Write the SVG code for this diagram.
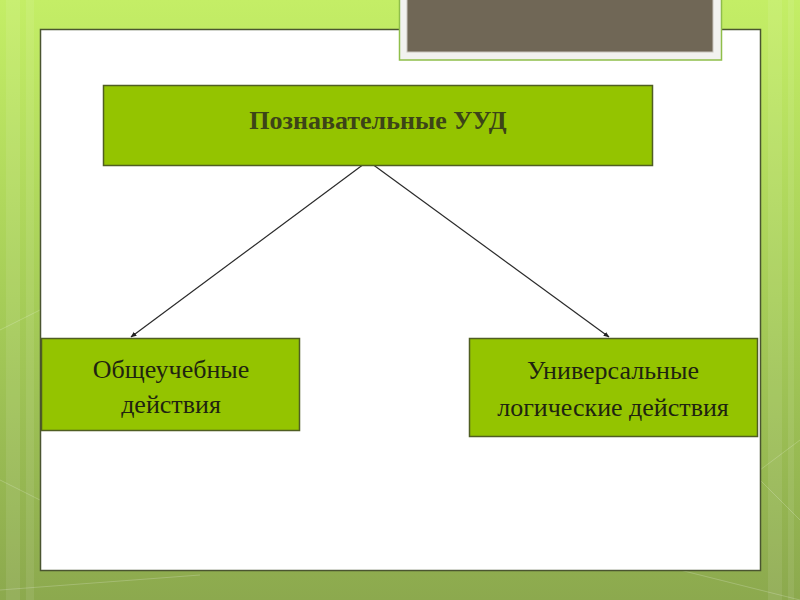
<svg xmlns="http://www.w3.org/2000/svg" width="800" height="600" viewBox="0 0 800 600">
<defs>
<linearGradient id="bg" x1="0" y1="0" x2="0" y2="1">
<stop offset="0" stop-color="#c4ee66"/>
<stop offset="0.5" stop-color="#a6cd58"/>
<stop offset="1" stop-color="#8ca94e"/>
</linearGradient>
<marker id="arr" viewBox="0 0 10 10" refX="9" refY="5" markerWidth="5" markerHeight="5" orient="auto">
<path d="M0,1 L10,5 L0,9 Z" fill="#222"/>
</marker>
<style>
.box{fill:#94c400;stroke:#4f5e22;stroke-width:1.5}
.t{font-family:"Liberation Serif","Times New Roman",serif;font-size:26px;fill:#1f2410;text-anchor:middle}
.tb{font-family:"Liberation Serif","Times New Roman",serif;font-size:26px;font-weight:bold;fill:#3c4418;text-anchor:middle}
.con{stroke:#2a2a2a;stroke-width:1.2;fill:none;marker-end:url(#arr)}
</style>
</defs>
<rect x="0" y="0" width="800" height="600" fill="url(#bg)"/>
<g fill="#ffffff" opacity="0.08">
<rect x="6" y="0" width="14" height="600"/>
<rect x="26" y="0" width="8" height="600"/>
<rect x="768" y="0" width="14" height="600"/>
<rect x="788" y="0" width="6" height="600"/>
</g>
<g stroke="#ffffff" stroke-opacity="0.2" stroke-width="1" fill="none">
<path d="M0,330 L40,310"/>
<path d="M0,480 L40,500"/>
<path d="M760,470 L800,440"/>
<path d="M760,480 L800,520"/>
<path d="M680,570 L800,600"/>
<path d="M0,590 L200,575"/>
</g>
<rect x="40.5" y="29.5" width="720" height="541" fill="#ffffff" stroke="#4a5530" stroke-width="1.5"/>
<g id="title">
<rect x="399.5" y="-2" width="322" height="62" fill="#f2f2f0" stroke="#8fbe4a" stroke-width="1.5"/>
<rect x="407" y="-2" width="306" height="54" fill="#706756" stroke="#c8c4bc" stroke-width="1"/>
</g>
<g id="connectors">
<line class="con" x1="368" y1="161" x2="131" y2="337"/>
<line class="con" x1="368" y1="161" x2="609" y2="337"/>
</g>
<g id="n1">
<rect class="box" x="103.5" y="85.5" width="549" height="80"/>
<text class="tb" x="378" y="129">Познавательные УУД</text>
</g>
<g id="n2">
<rect class="box" x="41.5" y="338.5" width="258" height="92"/>
<text class="t" x="171" y="378">Общеучебные</text>
<text class="t" x="171" y="413">действия</text>
</g>
<g id="n3">
<rect class="box" x="469.5" y="338.5" width="288" height="98"/>
<text class="t" x="613" y="379">Универсальные</text>
<text class="t" x="613" y="416">логические действия</text>
</g>
</svg>
